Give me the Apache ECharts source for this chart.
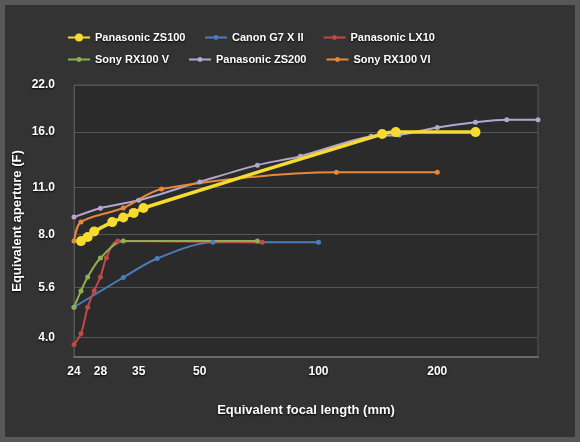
<!DOCTYPE html>
<html>
<head>
<meta charset="utf-8">
<script src="https://cdn.jsdelivr.net/npm/echarts@6/dist/echarts.min.js"></script>
<style>
  html, body { margin: 0; padding: 0; background: #585858; }
  #main { width: 580px; height: 442px; }
</style>
</head>
<body>
<div id="main"></div>
<script>
// focal length (mm, 35mm equiv) / equivalent aperture (F) pairs
var zs100 = [[25, 7.66], [26, 7.88], [27, 8.17], [30, 8.71], [32, 8.98], [34, 9.27], [36, 9.58], [145, 15.8], [157, 16.0], [250, 16.0]];
var g7x2 = [[24, 4.9], [32, 5.99], [39, 6.81], [54, 7.6], [100, 7.6]];
var lx10 = [[24, 3.81], [25, 4.1], [26, 4.9], [27, 5.48], [28, 6.01], [29, 6.85], [31, 7.66], [72, 7.6]];
var rx100v = [[24, 4.9], [25, 5.47], [26, 6.01], [28, 6.83], [32, 7.66], [70, 7.66]];
var zs200 = [[24, 9.01], [28, 9.57], [35, 10.09], [50, 11.43], [70, 12.8], [90, 13.6], [136, 15.56], [160, 15.7], [200, 16.5], [250, 17.1], [300, 17.4], [360, 17.4]];
var rx100vi = [[24, 7.66], [25, 8.72], [32, 9.58], [40, 10.9], [111, 12.2], [200, 12.2]];

var xTicks = [24, 28, 35, 50, 100, 200];
var yTicks = [4, 5.6, 8, 11, 16, 22];

var names = ["Panasonic ZS100", "Canon G7 X II", "Panasonic LX10", "Sony RX100 V", "Panasonic ZS200", "Sony RX100 VI"];
var colors = ["#f5dc2e", "#4a7ebb", "#be4b48", "#8fb04f", "#b4a6cf", "#e8893a"];
var seriesData = [zs100, g7x2, lx10, rx100v, zs200, rx100vi];

var shadow = { textShadowColor: "#000", textShadowBlur: 2, textShadowOffsetY: 1 };

var myChart = echarts.init(document.getElementById("main"));

var series = seriesData.map(function (d, i) {
  var big = i === 0;
  return {
    name: names[i],
    type: "line",
    data: d,
    smooth: 0.3,
    symbol: "circle",
    symbolSize: big ? 10 : 5,
    color: colors[i],
    lineStyle: { width: big ? 3.5 : 2 },
    z: big ? 3 : 2
  };
});

var legendText = Object.assign({ color: "#fff", fontSize: 11, fontWeight: "bold", fontFamily: "Liberation Sans" }, shadow);

function legend(items, left, top, h) {
  return { data: items, left: left, top: top, padding: 0, itemWidth: 22, itemHeight: h, itemGap: 19, textStyle: legendText };
}

option = {
  backgroundColor: "#585858",
  graphic: [{
    type: "rect",
    shape: { x: 5, y: 5, width: 570, height: 432 },
    style: { fill: "#333333" },
    z: -10
  }],
  // 2 rows of legend, ZS100 gets its own so its marker can be bigger
  legend: [
    legend(names.slice(0, 1), 67, 32, 10),
    legend(names.slice(1, 3), 204, 32, 6),
    legend(names.slice(3), 67, 54, 6)
  ],
  grid: {
    left: 74, right: 42, top: 85, bottom: 85,
    show: true,
    backgroundColor: "#2b2b2b",
    borderColor: "#555",
    borderWidth: 1
  },
  xAxis: {
    type: "log",
    logBase: 2,
    min: 24,
    max: 360,
    name: "Equivalent focal length (mm)",
    nameLocation: "middle",
    nameGap: 47,
    nameMoveOverlap: false,
    nameTextStyle: Object.assign({ color: "#fff", fontSize: 13, fontWeight: "bold", fontFamily: "Liberation Sans" }, shadow),
    axisLine: { lineStyle: { color: "#6a6a6a", width: 2 } },
    axisTick: { show: false, customValues: xTicks },
    splitLine: { show: false },
    axisLabel: Object.assign({
      customValues: xTicks,
      color: "#fff", fontSize: 12, fontWeight: "bold", fontFamily: "Liberation Sans", margin: 9,
      formatter: function (v) { return String(Math.round(v)); }
    }, shadow)
  },
  yAxis: {
    type: "log",
    logBase: 2,
    min: 3.5,
    max: 22,
    name: "Equivalent aperture (F)",
    nameLocation: "middle",
    nameGap: 50,
    nameMoveOverlap: false,
    nameTextStyle: Object.assign({ color: "#fff", fontSize: 13, fontWeight: "bold", fontFamily: "Liberation Sans" }, shadow),
    axisLine: { show: true, lineStyle: { color: "#555" } },
    axisTick: { show: false, customValues: yTicks },
    splitLine: { show: true, lineStyle: { color: "#555" } },
    axisLabel: Object.assign({
      customValues: yTicks,
      color: "#fff", fontSize: 12, fontWeight: "bold", fontFamily: "Liberation Sans", margin: 19,
      formatter: function (v) { return Number(v).toFixed(1); }
    }, shadow)
  },
  series: series
};
myChart.setOption(option);
</script>
</body>
</html>
